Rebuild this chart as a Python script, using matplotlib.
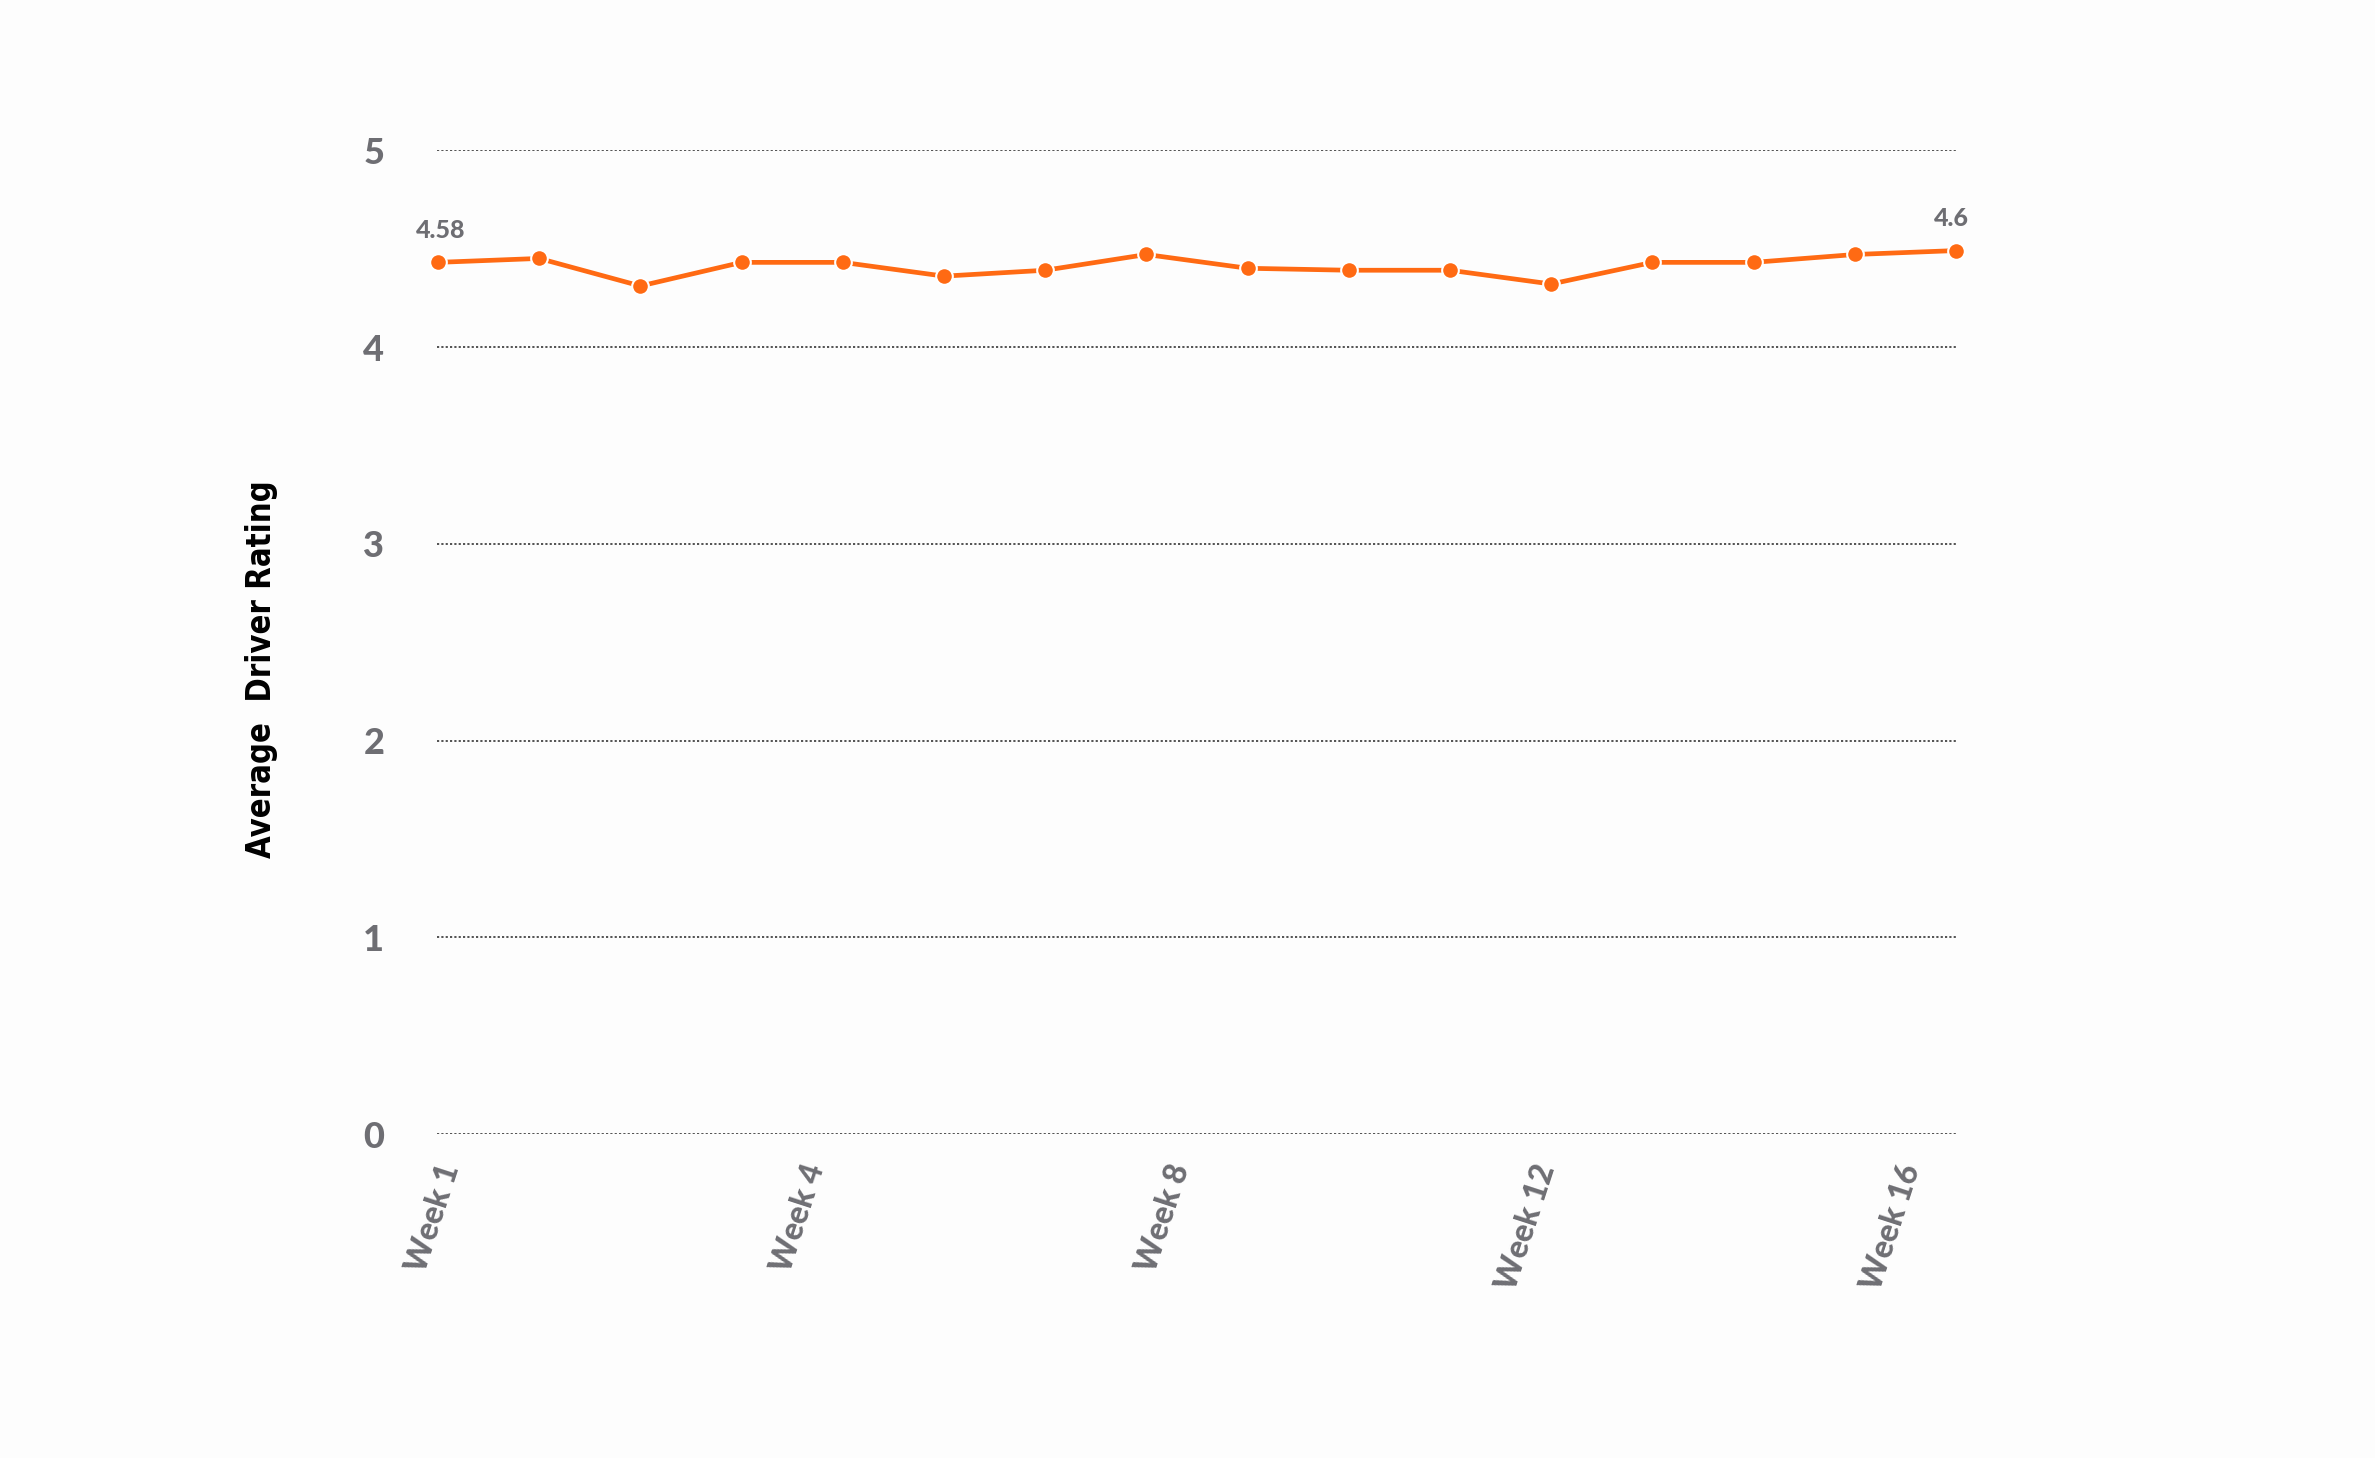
import matplotlib
matplotlib.use('Agg')
import matplotlib.pyplot as plt
import numpy as np

# weekly average driver rating
weeks = list(range(1, 17))
ratings = [4.43, 4.45, 4.31, 4.43, 4.43, 4.36, 4.39, 4.47,
           4.40, 4.39, 4.39, 4.32, 4.43, 4.43, 4.47, 4.49]
end_labels = ['4.58', '4.6']
week_ticks = ['Week 1', 'Week 4', 'Week 8', 'Week 12', 'Week 16']
y_ticks = [0, 1, 2, 3, 4, 5]

orange = '#ff6a13'
grey = '#6e6e73'

plt.rcParams['font.family'] = ['Lato', 'DejaVu Sans']

fig = plt.figure(figsize=(23.75, 14.58), dpi=100, facecolor='#fdfdfd')
ax = fig.add_axes([0.184, 0.222, 0.64, 0.675])
ax.set_facecolor('#fdfdfd')

x = np.arange(len(weeks))
ax.plot(x, ratings, color=orange, lw=3.4, marker='o', markersize=12,
        markerfacecolor=orange, markeredgecolor='white', markeredgewidth=1.5,
        clip_on=False, zorder=3)

ax.annotate(end_labels[0], (x[0], ratings[0]), xytext=(2, 15), textcoords='offset points',
            ha='center', va='bottom', fontsize=18, fontweight='black', color=grey)
ax.annotate(end_labels[1], (x[-1], ratings[-1]), xytext=(-3, 15), textcoords='offset points',
            ha='center', va='bottom', fontsize=18, fontweight='black', color=grey)

ax.set_ylim(0, 5)
ax.set_xlim(-0.01, len(weeks) - 0.99)
ax.set_yticks(y_ticks)
ax.set_yticklabels([str(v) for v in y_ticks], fontsize=26, fontweight='black', color=grey)
ax.tick_params(axis='y', length=0, pad=38)

tick_pos = 0.12 + 3.61 * np.arange(len(week_ticks))
ax.set_xticks(tick_pos)
ax.set_xticklabels(week_ticks, rotation=72, ha='right', va='center',
                   rotation_mode='anchor', fontsize=23, fontweight='black', color=grey)
ax.tick_params(axis='x', length=0, pad=22)

ax.yaxis.grid(True, linestyle=(0, (1.2, 1.2)), color='#444444', lw=1.3)
ax.set_axisbelow(True)
for s in ax.spines.values():
    s.set_visible(False)

fig.text(0.110, 0.541, 'Average  Driver Rating', rotation=90, ha='center', va='center',
         fontsize=23.5, fontweight='bold', fontstretch='condensed', color='black',
         family=['DejaVu Sans'])

plt.savefig('out.png', dpi=100, facecolor=fig.get_facecolor())
